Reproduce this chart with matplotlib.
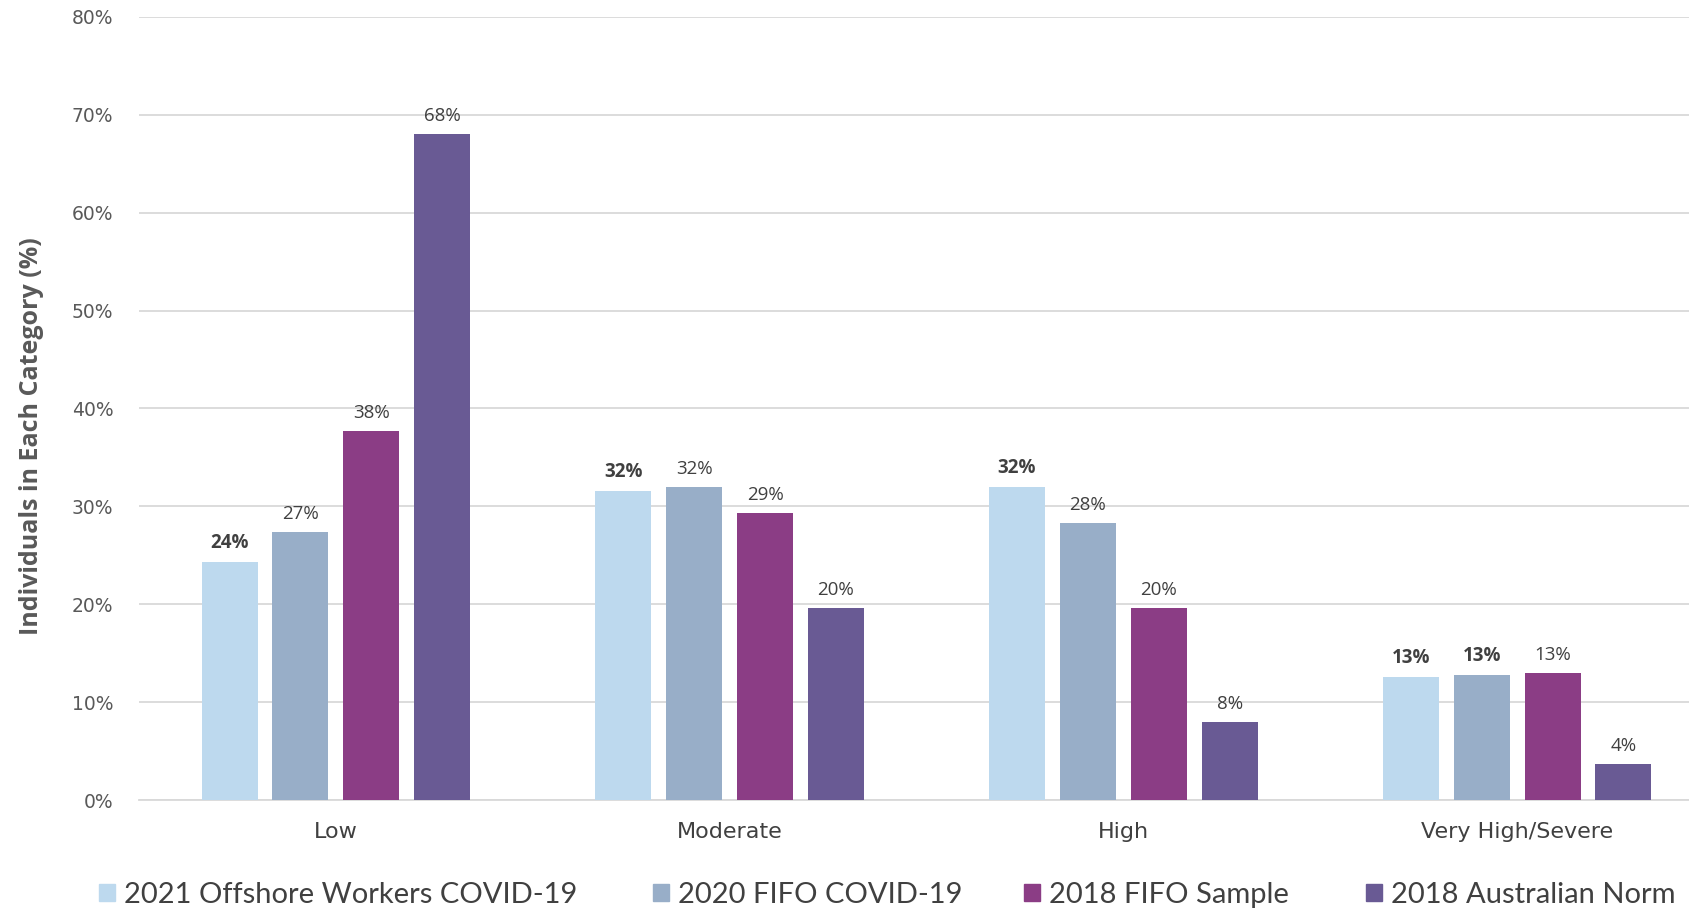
import matplotlib
matplotlib.use("Agg")
import matplotlib.pyplot as plt
from matplotlib.patches import Patch
import numpy as np

categories = ["Low", "Moderate", "High", "Very High/Severe"]
series_names = ["2021 Offshore Workers COVID-19", "2020 FIFO COVID-19",
                "2018 FIFO Sample", "2018 Australian Norm"]
s2021 = [24.3, 31.6, 32.0, 12.6]
s2020 = [27.4, 32.0, 28.3, 12.8]
s2018_fifo = [37.7, 29.3, 19.6, 13.0]
s2018_norm = [68.0, 19.6, 8.0, 3.7]
label_2021 = ["24%", "32%", "32%", "13%"]
label_2020 = ["27%", "32%", "28%", "13%"]
label_2018_fifo = ["38%", "29%", "20%", "13%"]
label_2018_norm = ["68%", "20%", "8%", "4%"]
yticks = [0, 10, 20, 30, 40, 50, 60, 70, 80]
ytick_labels = ["0%", "10%", "20%", "30%", "40%", "50%", "60%", "70%", "80%"]
ylabel = "Individuals in Each Category (%)"

series = [s2021, s2020, s2018_fifo, s2018_norm]
labels = [label_2021, label_2020, label_2018_fifo, label_2018_norm]
colors = ["#BDD9EE", "#98AEC8", "#8B3D85", "#695A94"]
bold = [[True] * 4, [False, False, False, True], [False] * 4, [False] * 4]

W, H = 1689, 909
fig = plt.figure(figsize=(W / 100, H / 100), dpi=100)
ax = fig.add_axes([139 / W, 109 / H, (1714 - 139) / W, (800 - 17) / H])

x = np.arange(len(categories))
offsets = [-0.27, -0.09, 0.09, 0.27]
width = 0.142
for i, (vals, col) in enumerate(zip(series, colors)):
    bars = ax.bar(x + offsets[i], vals, width, color=col, zorder=3, label=series_names[i])
    for j, b in enumerate(bars):
        ax.annotate(labels[i][j], (b.get_x() + b.get_width() / 2, b.get_height()),
                    xytext=(0, 6.5), textcoords="offset points", ha="center", va="bottom",
                    fontsize=13.5, color="#404040", family="Open Sans",
                    fontweight="bold" if bold[i][j] else "normal")

ax.set_xlim(-0.5, 3.5)
ax.set_ylim(0, 80)
ax.set_yticks(yticks)
ax.set_yticklabels(ytick_labels, family="DejaVu Sans", fontsize=13.5, color="#595959")
ax.set_xticks(x)
ax.set_xticklabels(categories, family="DejaVu Sans", fontsize=16, color="#404040")
ax.tick_params(axis="y", length=0, pad=18.5)
ax.tick_params(axis="x", length=0, pad=15.5)
ax.grid(axis="y", color="#D9D9D9", linewidth=1.3, zorder=0)
for s in ["top", "right", "left"]:
    ax.spines[s].set_visible(False)
ax.spines["bottom"].set_color("#D9D9D9")
ax.spines["bottom"].set_linewidth(1.3)

fig.text(32 / W, 1 - 436 / H, ylabel, rotation=90, ha="center", va="center",
         fontsize=18, fontweight="bold", color="#595959", family="Open Sans")

legend_x = [99, 653, 1024, 1366]
for name, col, lx in zip(series_names, colors, legend_x):
    leg = fig.legend([Patch(color=col)], [name], loc="center left",
                     bbox_to_anchor=(lx / W, 14 / H), frameon=False,
                     prop={"family": "Lato", "size": 21},
                     handlelength=0.55, handleheight=0.55, handletextpad=0.3,
                     borderaxespad=0, borderpad=0)
    for t in leg.get_texts():
        t.set_color("#404040")

fig.savefig("out.png", dpi=100)
